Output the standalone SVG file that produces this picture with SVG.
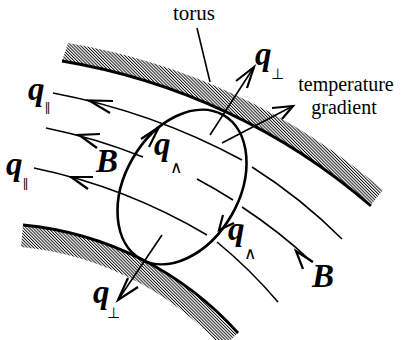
<svg xmlns="http://www.w3.org/2000/svg" width="405" height="340" viewBox="0 0 405 340">
  <defs>
    <pattern id="hatch" width="2.2" height="2.2" patternUnits="userSpaceOnUse" patternTransform="rotate(-45)">
      <rect width="2.2" height="2.2" fill="#fff"/>
      <line x1="0.5" y1="0" x2="0.5" y2="2.2" stroke="#000" stroke-width="0.9"/>
    </pattern>
  </defs>
  <style>
    .wall { fill: url(#hatch); stroke: none; }
    .edge { fill: none; stroke: #000; stroke-width: 2.8; }
    .fl { fill: none; stroke: #000; stroke-width: 1.6; }
    .ar { fill: none; stroke: #000; stroke-width: 2.2; stroke-linejoin: miter; }
    .loop { fill: none; stroke: #000; stroke-width: 2.6; }
    .lbl { font-family: "Liberation Serif", "Times New Roman", serif; font-size: 20px; fill: #000; }
    .tor { font-size: 21px; }
    .m { font-family: "Liberation Serif", "Times New Roman", serif; font-size: 33px; font-weight: bold; font-style: italic; fill: #000; }
    .sub { font-family: "DejaVu Sans", sans-serif; font-size: 15px; fill: #000; }
    .wed { font-family: "DejaVu Sans", sans-serif; font-size: 17px; fill: #000; }
    .par { font-family: "Liberation Sans", "Arial", sans-serif; font-size: 12px; letter-spacing: -1px; fill: #000; }
  </style>

  <g id="torus-top">
    <path class="wall" d="M62,61 A629,629 0 0 1 370,206 L383,190 A648,648 0 0 0 68,43 Z"/>
    <path class="edge" d="M62,61 A629,629 0 0 1 371,206"/>
  </g>
  <g id="torus-bottom">
    <path class="wall" d="M23,225 A331.5,331.5 0 0 1 238,333 L222,348 A309,309 0 0 0 21,247 Z"/>
    <path class="edge" d="M23,225 A331.5,331.5 0 0 1 238,333"/>
  </g>

  <g id="connectors">
    <path class="fl" d="M53,93 A650,650 0 0 1 242,160"/>
    <path class="fl" d="M252,167 A520,520 0 0 1 342,239"/>
    <path class="fl" d="M46,128 A560,560 0 0 1 143,157"/>
    <path class="fl" d="M197,179 A560,560 0 0 1 233,200"/>
    <path class="fl" d="M242,207 A520,520 0 0 1 312,262"/>
    <path class="fl" d="M34,168 A560,560 0 0 1 207,235"/>
    <path class="fl" d="M217,242 A480,480 0 0 1 278,302"/>
    <polyline class="ar" points="113,101 89,100.5 110,113"/>
    <polyline class="ar" points="100,134 79,135 97,148"/>
    <polyline class="ar" points="93,177 71,177 88,189"/>
    <polyline class="ar" points="313,262 296,251 303,269"/>
    <line class="fl" x1="197" y1="28" x2="210" y2="82"/>
    <line class="fl" x1="210" y1="135" x2="254" y2="67"/>
    <polyline class="ar" points="236,81 254,67 247,88"/>
    <line class="fl" x1="222" y1="143" x2="293" y2="106"/>
    <polyline class="ar" points="272,108 293,106 282,119"/>
    <line class="fl" x1="162" y1="235" x2="118" y2="300"/>
    <polyline class="ar" points="138,287 118,300 128,278"/>
    <polyline class="ar" points="141,139 159,127 149,147"/>
    <polyline class="ar" points="223,215 219,230 234,223"/>
  </g>

  <g id="loop">
    <ellipse class="loop" cx="182" cy="187" rx="83" ry="57" transform="rotate(-60 182 187)"/>
  </g>

  <g id="labels">
    <text class="lbl tor" x="194" y="20" text-anchor="middle">torus</text>
    <text class="lbl" x="346" y="91" text-anchor="middle">temperature</text>
    <text class="lbl" x="344" y="114" text-anchor="middle">gradient</text>

    <text class="m" x="255" y="65">q</text>
    <text class="sub" x="271" y="79">⊥</text>

    <text class="m" x="28" y="100">q</text>
    <text class="par" x="45" y="111">||</text>

    <text class="m" x="96" y="172">B</text>

    <text class="m" x="6" y="175">q</text>
    <text class="par" x="23" y="187">||</text>

    <text class="m" x="154" y="155">q</text>
    <text class="wed" x="170" y="173">∧</text>

    <text class="m" x="228" y="240">q</text>
    <text class="wed" x="244" y="259">∧</text>

    <text class="m" x="312" y="287">B</text>

    <text class="m" x="93" y="303">q</text>
    <text class="sub" x="107" y="318">⊥</text>
  </g>
</svg>
